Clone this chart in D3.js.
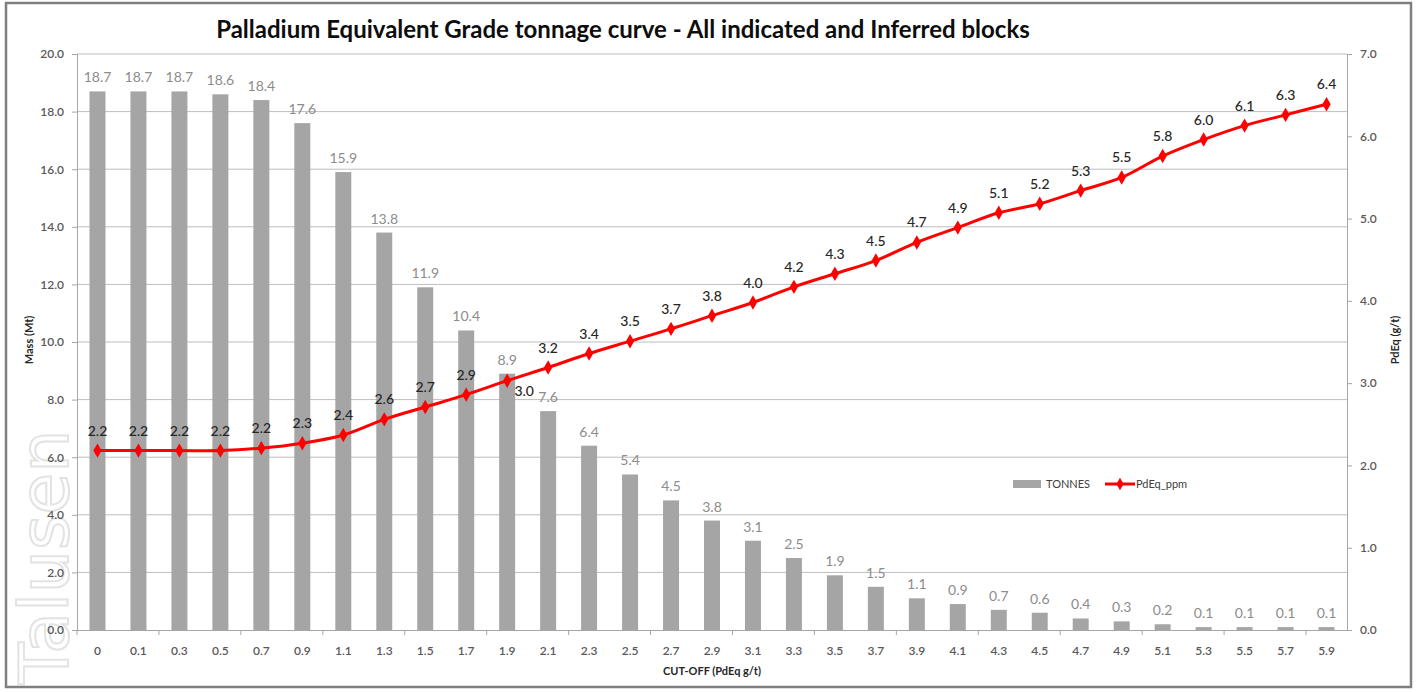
<!DOCTYPE html>
<html>
<head>
<meta charset="utf-8">
<script src="https://cdn.jsdelivr.net/npm/d3@7"></script>
<style>
  body { margin: 0; background: #fff; }
  svg { display: block; font-family: Lato, "Open Sans", sans-serif; }
</style>
</head>
<body>
<svg id="chart" width="1418" height="692"></svg>
<script>
// cut-off grades (category axis)
var cutoffs = ["0", "0.1", "0.3", "0.5", "0.7", "0.9", "1.1", "1.3", "1.5", "1.7", "1.9", "2.1", "2.3", "2.5", "2.7",
  "2.9", "3.1", "3.3", "3.5", "3.7", "3.9", "4.1", "4.3", "4.5", "4.7", "4.9", "5.1", "5.3", "5.5", "5.7", "5.9"];
// TONNES (Mt) - left axis
var tonnes = [18.7, 18.7, 18.7, 18.6, 18.4, 17.6, 15.9, 13.8, 11.9, 10.4, 8.9, 7.6, 6.4, 5.4, 4.5,
  3.8, 3.1, 2.5, 1.9, 1.5, 1.1, 0.9, 0.7, 0.6, 0.4, 0.3, 0.2, 0.1, 0.1, 0.1, 0.1];
// PdEq_ppm (g/t) - right axis
var pdeq = [2.18, 2.18, 2.18, 2.18, 2.21, 2.27, 2.37, 2.56, 2.71, 2.86, 3.03, 3.19, 3.36, 3.51, 3.66,
  3.82, 3.98, 4.17, 4.33, 4.49, 4.71, 4.89, 5.07, 5.18, 5.34, 5.5, 5.76, 5.96, 6.13, 6.26, 6.39];
var leftTicks = [0, 2, 4, 6, 8, 10, 12, 14, 16, 18, 20];
var rightTicks = [0, 1, 2, 3, 4, 5, 6, 7];

var svg = d3.select("#chart");
var margin = {left: 77, right: 1347, top: 54, bottom: 630};

var x = d3.scaleBand().domain(cutoffs).range([margin.left, margin.right]).padding(0);
var y = d3.scaleLinear().domain([0, 20]).range([margin.bottom, margin.top]);
var y2 = d3.scaleLinear().domain([0, 7]).range([margin.bottom, margin.top]);
var bw = x.bandwidth() * 0.39;

// faint watermark on the left, inside the frame
svg.append("text")
  .attr("transform", "translate(68,684) rotate(-90)")
  .style("font", "68px 'DejaVu Sans'")
  .style("fill", "none")
  .style("stroke", "#e3e3e3")
  .style("stroke-width", 2)
  .text("Talusen");

// outer frame
svg.append("rect")
  .attr("x", 6).attr("y", 3).attr("width", 1405).attr("height", 684)
  .style("fill", "none").style("stroke", "#7f7f7f").style("stroke-width", 2.5);

// gridlines
svg.append("g").selectAll("line")
  .data(leftTicks.slice(1))
  .enter().append("line")
  .attr("x1", margin.left).attr("x2", margin.right)
  .attr("y1", function(d) { return y(d); }).attr("y2", function(d) { return y(d); })
  .style("stroke", "#bdbdbd").style("stroke-width", 1);

// left axis
var gl = svg.append("g").attr("transform", "translate(" + margin.left + ",0)")
  .call(d3.axisLeft(y).tickValues(leftTicks).tickFormat(d3.format(".1f")).tickSize(5).tickPadding(8));
// right axis
var gr = svg.append("g").attr("transform", "translate(" + margin.right + ",0)")
  .call(d3.axisRight(y2).tickValues(rightTicks).tickFormat(d3.format(".1f")).tickSize(5).tickPadding(8));
// bottom axis, ticks every second category boundary
var bounds = d3.range(0, cutoffs.length + 1, 2).map(function(k) { return margin.left + k * x.step(); });
var gb = svg.append("g").attr("transform", "translate(0," + margin.bottom + ")")
  .call(d3.axisBottom(x).tickSize(0).tickPadding(16));
gb.selectAll(".bt").data(bounds).enter().append("line")
  .attr("class", "bt")
  .attr("x1", function(d) { return d; }).attr("x2", function(d) { return d; })
  .attr("y1", 0).attr("y2", 5);

[gl, gr, gb].forEach(function(g) {
  g.select(".domain").style("stroke", "#a6a6a6");
  g.selectAll("line").style("stroke", "#a6a6a6");
  g.selectAll("text").style("font", "600 12px Lato, sans-serif").style("fill", "#595959");
});

// bars
svg.append("g").selectAll("rect")
  .data(tonnes)
  .enter().append("rect")
  .attr("x", function(d, i) { return x(cutoffs[i]) + (x.bandwidth() - bw) / 2; })
  .attr("y", function(d) { return y(d); })
  .attr("width", bw)
  .attr("height", function(d) { return y(0) - y(d); })
  .style("fill", "#a5a5a5");

svg.append("g").selectAll("text")
  .data(tonnes)
  .enter().append("text")
  .attr("x", function(d, i) { return x(cutoffs[i]) + x.bandwidth() / 2; })
  .attr("y", function(d) { return y(d) - 9; })
  .style("text-anchor", "middle")
  .style("font", "14px Lato, sans-serif")
  .style("fill", "#8c8c8c")
  .text(function(d) { return d.toFixed(1); });

// line
var cx = function(i) { return x(cutoffs[i]) + x.bandwidth() / 2; };
var line = d3.line()
  .x(function(d, i) { return cx(i); })
  .y(function(d) { return y2(d); })
  .curve(d3.curveCatmullRom.alpha(0.5));

svg.append("path")
  .datum(pdeq)
  .attr("d", line)
  .style("fill", "none").style("stroke", "#ff0000").style("stroke-width", 3);

svg.append("g").selectAll("path")
  .data(pdeq)
  .enter().append("path")
  .attr("transform", function(d, i) { return "translate(" + cx(i) + "," + y2(d) + ")"; })
  .attr("d", d3.symbol().type(d3.symbolDiamond).size(60))
  .style("fill", "#ff0000");

svg.append("g").selectAll("text")
  .data(pdeq)
  .enter().append("text")
  .attr("x", function(d, i) { return i == 10 ? cx(i) + 17 : cx(i); })
  .attr("y", function(d, i) { return i == 10 ? y2(d) + 15 : y2(d) - 15; })
  .style("text-anchor", "middle")
  .style("font", "500 14px Lato, sans-serif")
  .style("fill", "#262626")
  .text(function(d) { return d.toFixed(1); });

// title
svg.append("text")
  .attr("x", 623).attr("y", 38)
  .style("text-anchor", "middle")
  .style("font", "bold 24px Lato, sans-serif")
  .style("fill", "#0d0d0d")
  .text("Palladium Equivalent Grade tonnage curve - All indicated and Inferred blocks");

// axis titles
svg.append("text")
  .attr("transform", "translate(33,340) rotate(-90)")
  .style("text-anchor", "middle").style("font", "bold 11px Lato, sans-serif").style("fill", "#262626")
  .text("Mass (Mt)");
svg.append("text")
  .attr("transform", "translate(1399,340) rotate(-90)")
  .style("text-anchor", "middle").style("font", "bold 11px Lato, sans-serif").style("fill", "#262626")
  .text("PdEq (g/t)");
svg.append("text")
  .attr("x", 712).attr("y", 675)
  .style("text-anchor", "middle").style("font", "bold 11px Lato, sans-serif").style("fill", "#262626")
  .text("CUT-OFF (PdEq g/t)");

// legend
var lg = svg.append("g").attr("transform", "translate(1013,484)");
lg.append("rect").attr("x", 0).attr("y", -4).attr("width", 28).attr("height", 8).style("fill", "#a5a5a5");
lg.append("text").attr("x", 33).attr("y", 4).style("font", "11px Lato, sans-serif").style("fill", "#404040").text("TONNES");
lg.append("line").attr("x1", 92).attr("x2", 122).attr("y1", 0).attr("y2", 0)
  .style("stroke", "#ff0000").style("stroke-width", 3);
lg.append("path").attr("transform", "translate(107,0)")
  .attr("d", d3.symbol().type(d3.symbolDiamond).size(45)).style("fill", "#ff0000");
lg.append("text").attr("x", 123).attr("y", 4).style("font", "11px Lato, sans-serif").style("fill", "#404040").text("PdEq_ppm");
</script>
</body>
</html>
